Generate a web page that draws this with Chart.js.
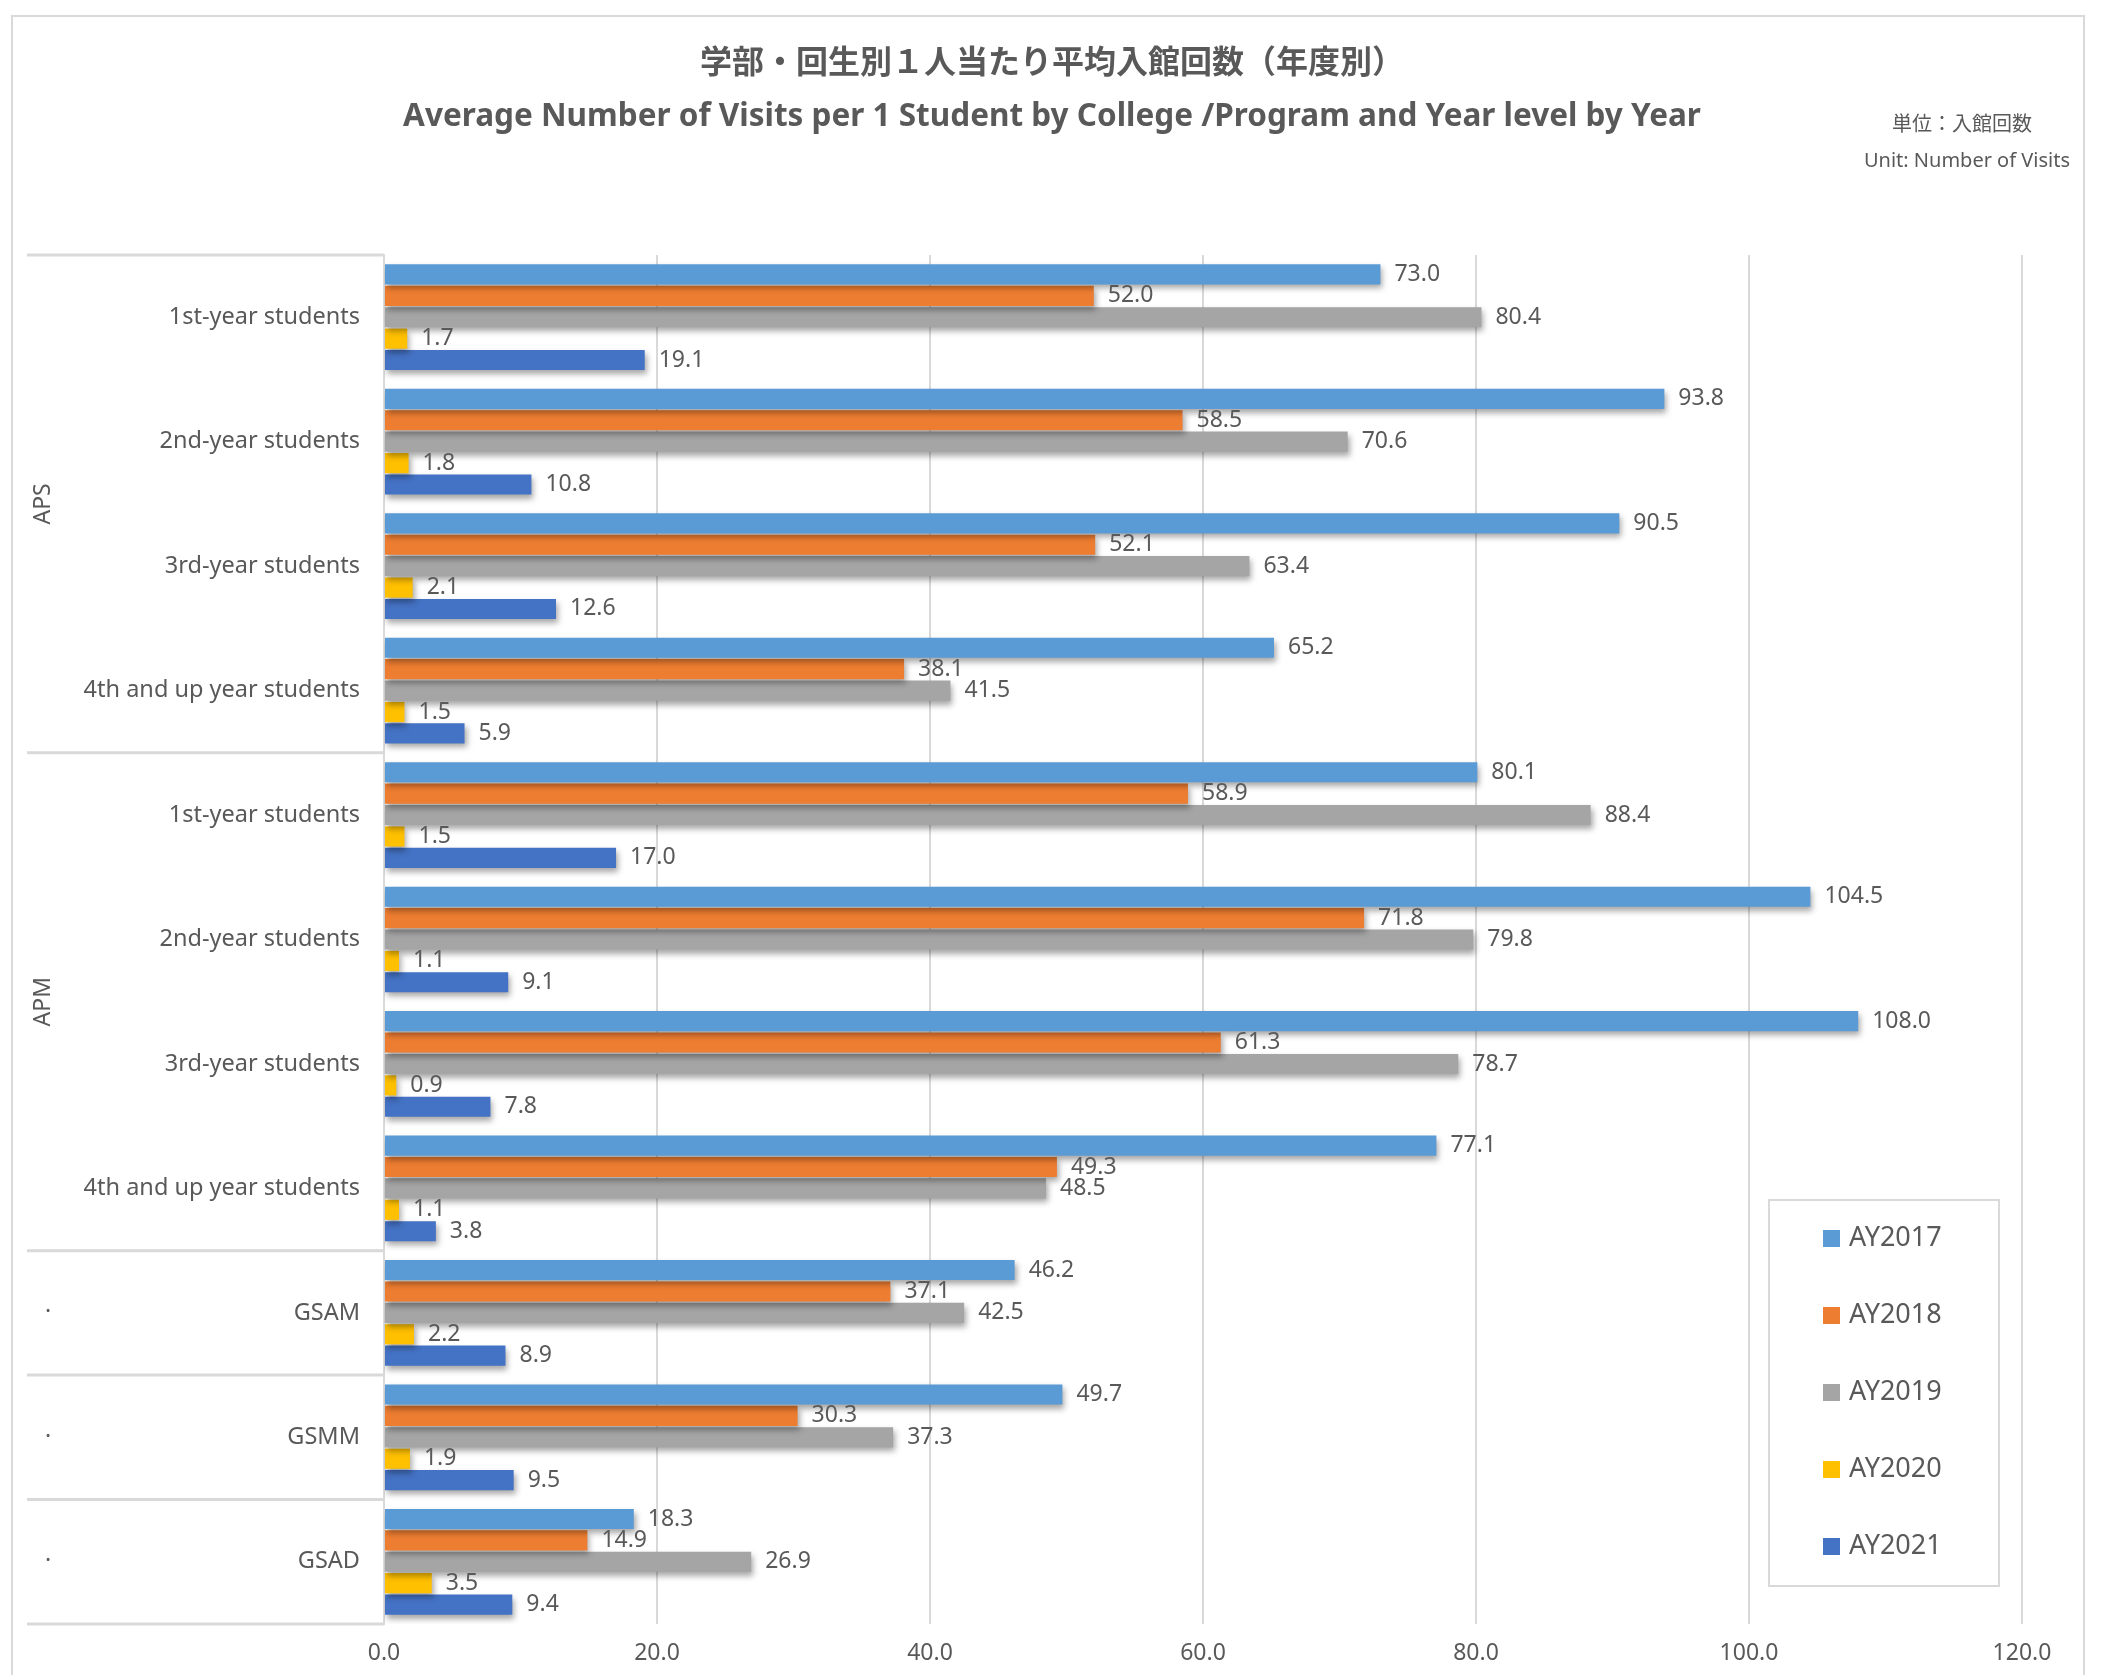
<!DOCTYPE html>
<html>
<head>
<meta charset="utf-8">
<script src="https://cdn.jsdelivr.net/npm/chart.js@4"></script>
<style>
  html, body { margin: 0; padding: 0; background: #fff; }
  #wrap { width: 2105px; height: 1675px; position: relative; }
</style>
</head>
<body>
<div id="wrap"><canvas id="chart" width="2105" height="1675"></canvas></div>
<script>
// category labels, top to bottom
const categories = [
  '1st-year students', '2nd-year students', '3rd-year students', '4th and up year students',
  '1st-year students', '2nd-year students', '3rd-year students', '4th and up year students',
  'GSAM', 'GSMM', 'GSAD'
];
// outer grouping of the category axis
const groupNames = ['APS', 'APM', '·', '·', '·'];
const groupSizes = [4, 4, 1, 1, 1];

const seriesNames = ['AY2017', 'AY2018', 'AY2019', 'AY2020', 'AY2021'];
const ay2017 = [73.0, 93.8, 90.5, 65.2, 80.1, 104.5, 108.0, 77.1, 46.2, 49.7, 18.3];
const ay2018 = [52.0, 58.5, 52.1, 38.1, 58.9, 71.8, 61.3, 49.3, 37.1, 30.3, 14.9];
const ay2019 = [80.4, 70.6, 63.4, 41.5, 88.4, 79.8, 78.7, 48.5, 42.5, 37.3, 26.9];
const ay2020 = [1.7, 1.8, 2.1, 1.5, 1.5, 1.1, 0.9, 1.1, 2.2, 1.9, 3.5];
const ay2021 = [19.1, 10.8, 12.6, 5.9, 17.0, 9.1, 7.8, 3.8, 8.9, 9.5, 9.4];
const xTicks = [0, 20, 40, 60, 80, 100, 120];

const titleJa = '学部・回生別１人当たり平均入館回数（年度別）';
const titleEn = 'Average Number of Visits per 1 Student by College /Program and Year level by Year';
const unitJa = '単位：入館回数';
const unitEn = 'Unit: Number of Visits';

const colors = ['#5B9BD5', '#ED7D31', '#A5A5A5', '#FFC000', '#4472C4'];
const textColor = '#595959';
const lineColor = '#D9D9D9';
const FONT = '"Noto Sans", "Noto Sans CJK JP", sans-serif';

const allSeries = [ay2017, ay2018, ay2019, ay2020, ay2021];

// frame, titles and unit text
const framePlugin = {
  id: 'frame',
  beforeDraw(chart) {
    const ctx = chart.ctx;
    ctx.save();
    ctx.fillStyle = '#fff';
    ctx.fillRect(0, 0, chart.width, chart.height);
    ctx.strokeStyle = lineColor;
    ctx.lineWidth = 2;
    ctx.strokeRect(12, 16, 2072, 1680);
    ctx.fillStyle = textColor;
    ctx.textAlign = 'center';
    ctx.textBaseline = 'middle';
    ctx.font = 'bold 32px ' + FONT;
    ctx.fillText(titleJa, 1052, 64);
    ctx.font = 'bold 31.5px ' + FONT;
    ctx.fillText(titleEn, 1052, 117);
    ctx.font = '20px ' + FONT;
    ctx.fillText(unitJa, 1962, 125);
    ctx.textAlign = 'right';
    ctx.fillText(unitEn, 2070, 161);
    ctx.restore();
  }
};

// outer category groups and separator lines
const groupPlugin = {
  id: 'groups',
  afterDraw(chart) {
    const ctx = chart.ctx;
    const y = chart.scales.y;
    const area = chart.chartArea;
    const half = (y.getPixelForValue(1) - y.getPixelForValue(0)) / 2;
    ctx.save();
    ctx.strokeStyle = lineColor;
    ctx.lineWidth = 3;
    let idx = 0;
    const bounds = [y.getPixelForValue(0) - half];
    groupSizes.forEach(n => { idx += n; bounds.push(y.getPixelForValue(idx - 1) + half); });
    bounds.forEach(b => {
      ctx.beginPath();
      ctx.moveTo(27, b);
      ctx.lineTo(area.left, b);
      ctx.stroke();
    });
    ctx.fillStyle = textColor;
    ctx.font = '23px ' + FONT;
    ctx.textAlign = 'center';
    ctx.textBaseline = 'middle';
    groupNames.forEach((name, i) => {
      const mid = (bounds[i] + bounds[i + 1]) / 2;
      ctx.save();
      if (groupSizes[i] > 1) {
        ctx.translate(43, mid);
        ctx.rotate(-Math.PI / 2);
        ctx.fillText(name, 0, 0);
      } else {
        ctx.fillText(name, 48, mid);
      }
      ctx.restore();
    });
    ctx.restore();
  }
};

// shadows under bars
const shadowPlugin = {
  id: 'barShadow',
  beforeDatasetDraw(chart) {
    const ctx = chart.ctx;
    ctx.save();
    ctx.shadowColor = 'rgba(0,0,0,0.35)';
    ctx.shadowBlur = 6;
    ctx.shadowOffsetX = 2;
    ctx.shadowOffsetY = 4;
  },
  afterDatasetDraw(chart) {
    chart.ctx.restore();
  }
};

// value labels at bar ends
const valueLabels = {
  id: 'valueLabels',
  afterDatasetsDraw(chart) {
    const ctx = chart.ctx;
    ctx.save();
    ctx.fillStyle = textColor;
    ctx.font = '23px ' + FONT;
    ctx.textAlign = 'left';
    ctx.textBaseline = 'middle';
    chart.data.datasets.forEach((ds, i) => {
      const meta = chart.getDatasetMeta(i);
      meta.data.forEach((bar, j) => {
        ctx.fillText(ds.data[j].toFixed(1), bar.x + 14, bar.y);
      });
    });
    ctx.restore();
  }
};

// legend box inside the plot area
const legendBox = {
  id: 'legendBox',
  afterDraw(chart) {
    const ctx = chart.ctx;
    ctx.save();
    ctx.fillStyle = '#fff';
    ctx.fillRect(1769, 1200, 230, 386);
    ctx.strokeStyle = lineColor;
    ctx.lineWidth = 2;
    ctx.strokeRect(1769, 1200, 230, 386);
    ctx.font = '27px ' + FONT;
    ctx.textBaseline = 'middle';
    ctx.textAlign = 'left';
    seriesNames.forEach((name, i) => {
      const cy = 1238 + i * 77;
      ctx.fillStyle = colors[i];
      ctx.fillRect(1823, cy - 8, 17, 17);
      ctx.fillStyle = textColor;
      ctx.fillText(name, 1849, cy);
    });
    ctx.restore();
  }
};

new Chart(document.getElementById('chart').getContext('2d'), {
  type: 'bar',
  data: {
    labels: categories,
    datasets: seriesNames.map((name, i) => ({
      label: name,
      data: allSeries[i],
      backgroundColor: colors[i],
      borderWidth: 0,
      categoryPercentage: 0.86,
      barPercentage: 0.94
    }))
  },
  options: {
    indexAxis: 'y',
    responsive: false,
    animation: false,
    layout: { padding: { top: 255, left: 27, right: 83, bottom: 0 } },
    plugins: {
      legend: { display: false },
      title: { display: false },
      tooltip: { enabled: false }
    },
    scales: {
      x: {
        min: 0,
        max: 120,
        afterBuildTicks(axis) { axis.ticks = xTicks.map(v => ({ value: v })); },
        afterFit(axis) { axis.height = 51; },
        grid: { color: lineColor, lineWidth: 2, drawTicks: false },
        border: { display: false },
        ticks: {
          color: textColor,
          font: { family: FONT, size: 23 },
          padding: 16,
          callback: v => Number(v).toFixed(1)
        }
      },
      y: {
        afterFit(axis) { axis.width = 357; },
        grid: { display: false, drawTicks: false },
        border: { display: true, color: lineColor, width: 2 },
        ticks: {
          color: textColor,
          font: { family: FONT, size: 23.5 },
          padding: 24,
          autoSkip: false
        }
      }
    }
  },
  plugins: [framePlugin, shadowPlugin, valueLabels, groupPlugin, legendBox]
});
</script>
</body>
</html>
